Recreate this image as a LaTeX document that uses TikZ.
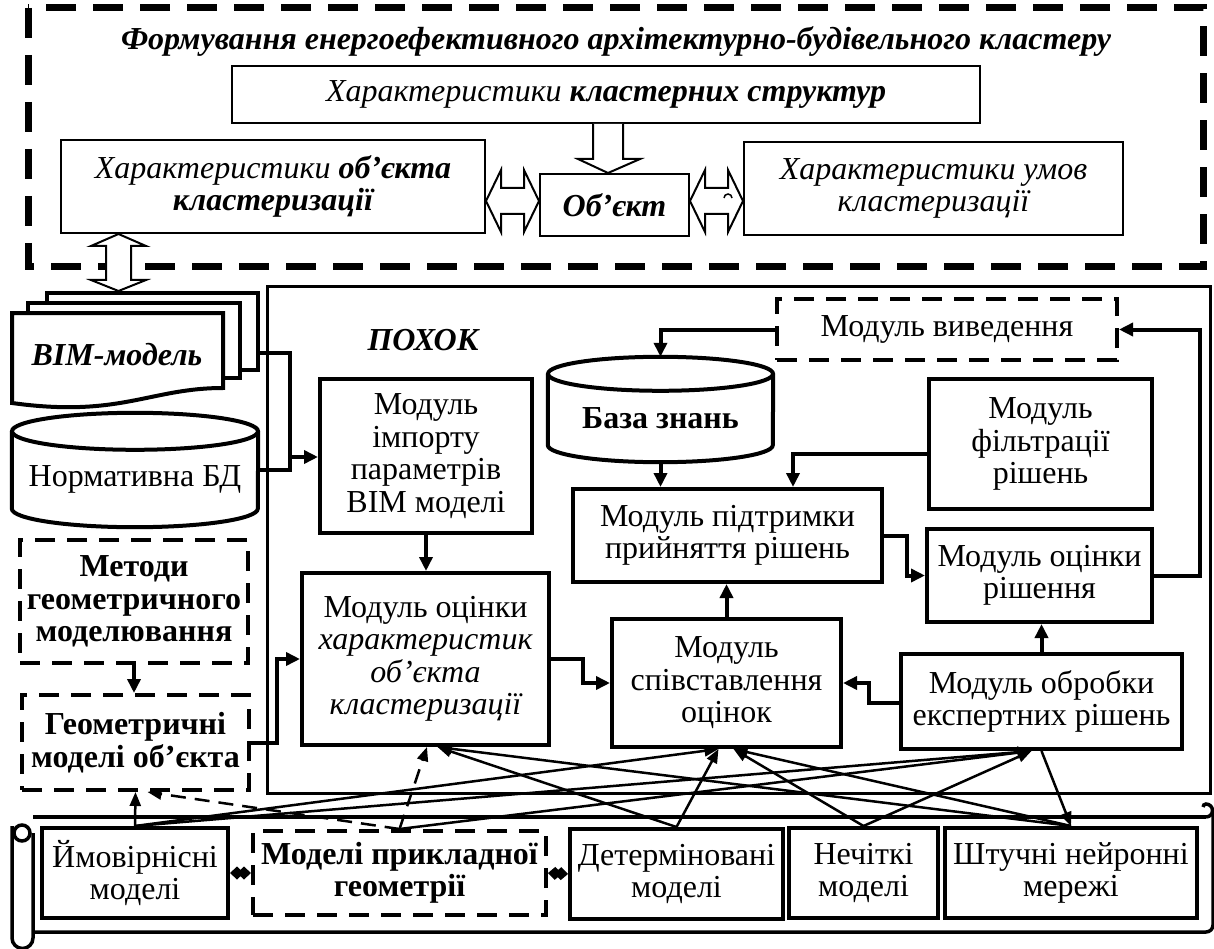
\documentclass[tikz,border=0pt]{standalone}
\usepackage{fontspec}
\setmainfont{Liberation Serif}
\usetikzlibrary{arrows.meta, calc}

\begin{document}
\begin{tikzpicture}[
		x=1pt, y=-1pt,
		every node/.style={inner sep=0pt, align=center, font=\fontsize{32}{32.5}\selectfont},
		tbox/.style={draw, line width=2pt, fill=white},
		box/.style={draw, line width=4pt, fill=white},
		dbox/.style={draw, line width=4pt, dash pattern=on 20pt off 12pt, fill=white},
		page/.style={draw, line width=4pt, fill=white},
		cyl/.style={draw, line width=4pt},
		arrow/.style={-{Triangle[length=14pt, width=13pt]}, line width=4pt},
		link/.style={-{Triangle[length=14pt, width=11pt]}, line width=2.5pt},
		dlink/.style={link, dash pattern=on 15pt off 9pt},
		both/.style={{Diamond[length=14pt, width=13pt]}-{Diamond[length=14pt, width=13pt]}, line width=3pt},
		block/.style={draw, line width=2pt, fill=white, line join=miter},
		frame/.style={draw, line width=7pt, dash pattern=on 30pt off 17pt},
		scroll/.style={draw, line width=3.5pt}
		]
		\useasboundingbox (0,0) rectangle (1214,949);
		
		% cluster forming frame
		\draw[frame] (28,8) rectangle (1203,267);
		\node[font=\fontsize{32}{32.5}\selectfont\bfseries\itshape] (title) at (616,42) {Формування енергоефективного архітектурно-будівельного кластеру};
		
		\node[tbox, minimum width=748pt, minimum height=57pt] (clust) at (606,94.5) {\itshape Характеристики \bfseries кластерних структур};
		\node[tbox, minimum width=424pt, minimum height=93pt] (charobj) at (273,186.5) {{\itshape Характеристики \bfseries об’єкта}\\{\bfseries\itshape кластеризації}};
		\node[tbox, minimum width=149pt, minimum height=62pt] (obj) at (614.5,205) {\bfseries\itshape Об’єкт};
		\node[tbox, minimum width=379pt, minimum height=93pt] (cond) at (933.5,188.5) {{\itshape Характеристики умов}\\{\itshape кластеризації}};
		
		% block arrows
		\draw[block] ($(clust.south)+(-13,0)$) -- ($(clust.south)+(-13,35)$) -- ($(clust.south)+(-28,35)$) -- ($(obj.north)+(-6.5,0)$) -- ($(clust.south)+(34,35)$) -- ($(clust.south)+(17,35)$) -- ($(clust.south)+(17,0)$);
		
		\coordinate (a1) at ($(charobj.east |- obj)+(0,-4)$);
		\coordinate (a2) at ($(obj.west)+(0,-4)$);
		\draw[block] (a1) -- ++(15,-31) -- ++(0,18) -- ($(a2)+(-15,-13)$) -- ++(0,-18) -- (a2) -- ++(-15,31) -- ++(0,-18) -- ($(a1)+(15,13)$) -- ++(0,18) -- cycle;
		
		\coordinate (b1) at ($(obj.east)+(0,-4)$);
		\coordinate (b2) at ($(cond.west |- obj)+(0,-4)$);
		\draw[block] (b1) -- ++(15,-31) -- ++(0,18) -- ($(b2)+(-15,-13)$) -- ++(0,-18) -- (b2) -- ++(-15,31) -- ++(0,-18) -- ($(b1)+(15,13)$) -- ++(0,18) -- cycle;
		\draw[line width=1.5pt] ($(b1)+(34,-3)$) arc[start angle=180, end angle=0, radius=4pt];
		
		% BIM pages
		\node[page, minimum width=211pt, minimum height=77pt] (bim3) at (152.5,331.5) {};
		\node[page, minimum width=212pt, minimum height=75pt] (bim2) at (134,340.5) {};
		\draw[page] (12,313) -- (223,313) -- (223,388) .. controls (150,388) and (120,418) .. (12,403) -- cycle;
		\node[font=\fontsize{32}{32.5}\selectfont\bfseries\itshape] (bim) at (117,355) {BIM-модель};
		
		\coordinate (c1) at ($(charobj.south west)+(58.5,0)$);
		\coordinate (c2) at (c1 |- bim3.north);
		\draw[block] (c1) -- ++(27.5,12) -- ++(-15,0) -- ($(c2)+(12.5,-11)$) -- ++(15,0) -- (c2) -- ++(-27.5,-11) -- ++(15,0) -- ($(c1)+(-12.5,12)$) -- ++(-15,0) -- cycle;
		
		% normative DB
		\node[minimum width=246pt, minimum height=114pt] (normdb) at (135,470) {};
		\draw[cyl] ($(normdb.north west)+(0,18.5)$) -- ($(normdb.south west)+(0,-18.5)$) arc[start angle=180, end angle=360, x radius=123pt, y radius=18.5pt] -- ($(normdb.north east)+(0,18.5)$);
		\draw[cyl] ($(normdb.north)+(0,18.5)$) ellipse[x radius=123pt, y radius=18.5pt];
		\node (normtxt) at ($(normdb)+(0,9)$) {Нормативна БД};
		
		% system
		\node[draw, line width=3pt, minimum width=943pt, minimum height=506pt] (system) at (738.5,540) {};
		\node[font=\fontsize{32}{32.5}\selectfont\bfseries\itshape] (pokhok) at (423,340) {ПОХОК};
		
		\node[box, minimum width=212pt, minimum height=154pt] (import) at (426,456) {Модуль\\імпорту\\параметрів\\BIM моделі};
		\node[box, minimum width=247pt, minimum height=172pt] (charmod) at (425.5,659) {Модуль оцінки\\{\itshape характеристик}\\{\itshape об’єкта}\\{\itshape кластеризації}};
		\node[box, minimum width=309pt, minimum height=93pt] (support) at (727.5,535.5) {Модуль підтримки\\прийняття рішень};
		\node[box, minimum width=223pt, minimum height=130pt] (filter) at (1040.5,444) {Модуль\\фільтрації\\рішень};
		\node[box, minimum width=225pt, minimum height=93pt] (evalsol) at (1039.5,575.5) {Модуль оцінки\\рішення};
		\node[box, minimum width=229pt, minimum height=128pt] (compare) at (726.5,683) {Модуль\\співставлення\\оцінок};
		\node[box, minimum width=281pt, minimum height=95pt] (process) at (1041.5,701.5) {Модуль обробки\\експертних рішень};
		\node[dbox, minimum width=340pt, minimum height=61pt] (output) at (947,329.5) {Модуль виведення};
		
		% knowledge base
		\node[minimum width=225pt, minimum height=105pt] (kb) at (660.5,409.5) {};
		\draw[cyl] ($(kb.north west)+(0,17)$) -- ($(kb.south west)+(0,-17)$) arc[start angle=180, end angle=360, x radius=112.5pt, y radius=17pt] -- ($(kb.north east)+(0,17)$);
		\draw[cyl] ($(kb.north)+(0,17)$) ellipse[x radius=112.5pt, y radius=17pt];
		\node[font=\fontsize{32}{32.5}\selectfont\bfseries] (kbtxt) at ($(kb)+(0,9)$) {База знань};
		
		% geometry
		\node[dbox, minimum width=228pt, minimum height=123pt] (methods) at (134,601.5) {\bfseries Методи\\\bfseries геометричного\\\bfseries моделювання};
		\node[dbox, minimum width=227pt, minimum height=95pt] (geom) at (135.5,742.5) {\bfseries Геометричні\\\bfseries моделі об’єкта};
		
		% connectors
		\coordinate (join) at ($(bim3.east)+(30,125.5)$);
		\draw[line width=4pt] ($(bim3.east)+(0,21.5)$) -- ++(30,0) |- (normdb.east);
		\draw[arrow] (join) -- (import.west |- join);
		\draw[arrow] (import.south) -- (import.south |- charmod.north);
		\draw[arrow] (charmod.east) -- ++(32,0) |- (compare.west);
		\draw[arrow] (compare.north) -- (compare.north |- support.south);
		\draw[arrow] (kb.south) -- (kb.south |- support.north);
		\draw[arrow] ($(filter.west)+(0,10)$) -| ($(support.north)+(65.5,0)$);
		\draw[arrow] (support.east) -- ++(23,0) |- (evalsol.west);
		\draw[arrow] (process.north) -- (process.north |- evalsol.south);
		\draw[arrow] ($(process.west)+(0,1.5)$) -- ++(-30,0) |- (compare.east);
		\draw[arrow] (evalsol.east) -- ++(46,0) |- (output.east);
		\draw[arrow] (output.west) -| (kb.north);
		\draw[arrow] (methods.south) -- (methods.south |- geom.north);
		\draw[arrow] (geom.east) -- ++(26,0) |- (charmod.west);
		
		% scroll
		\draw[scroll] (33,817) -- (1206,817);
		\draw[scroll] (1206,817) arc[start angle=270, end angle=450, radius=6.5pt] arc[start angle=90, end angle=180, radius=3pt];
		\draw[scroll] (1213,810) -- (1213,925) arc[start angle=0, end angle=-90, radius=7pt] -- (33,932);
		\draw[scroll] (22,833) circle[radius=8pt];
		\draw[scroll] (12,826) -- (12,938) arc[start angle=180, end angle=360, radius=10.5pt] -- (33,833);
		
		% models
		\node[box, minimum width=186pt, minimum height=90pt] (prob) at (135,873) {Ймовірнісні\\моделі};
		\node[dbox, minimum width=293pt, minimum height=84pt] (appl) at (399.5,873) {\bfseries Моделі прикладної\\\bfseries геометрії};
		\node[box, minimum width=213pt, minimum height=90pt] (det) at (676.5,874) {Детерміновані\\моделі};
		\node[box, minimum width=149pt, minimum height=90pt] (fuzzy) at (863.5,873) {Нечіткі\\моделі};
		\node[box, minimum width=252pt, minimum height=90pt] (ann) at (1071,873) {Штучні нейронні\\мережі};
		
		\draw[both] (prob.east) -- (appl.west);
		\draw[both] (appl.east) -- (det.west);
		
		\draw[link] (prob.north) -- (geom.south);
		\draw[dlink] (appl.north) -- ($(geom.south)+(12,0)$);
		\draw[dlink] (appl.north) -- ($(charmod.south)+(1.5,0)$);
		\draw[link] (prob.north) -- ($(compare.south)+(-8,0)$);
		\draw[link] (prob.north) -- ($(process.south)+(-10,0)$);
		\draw[link] (appl.north) -- ($(process.south)+(-10,0)$);
		\draw[link] (det.north) -- ($(compare.south)+(-8,0)$);
		\draw[link] (det.north) -- ($(charmod.south)+(12,0)$);
		\draw[link] (fuzzy.north) -- ($(compare.south)+(7,0)$);
		\draw[link] (fuzzy.north) -- ($(process.south)+(-10,0)$);
		\draw[link] (ann.north) -- ($(compare.south)+(7,0)$);
		\draw[link] (ann.north) -- ($(charmod.south)+(12,0)$);
		\draw[link] (process.south) -- (ann.north);
		
	\end{tikzpicture}
\end{document}
